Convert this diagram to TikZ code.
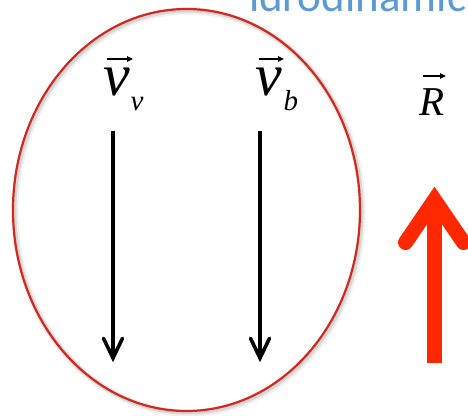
\documentclass[tikz,border=0pt]{standalone}
\usepackage{fontspec}
\usetikzlibrary{arrows.meta}
\setmainfont{Liberation Serif}
\newfontfamily\titlefont{Carlito}
\definecolor{titleblue}{RGB}{91,155,213}
\definecolor{ringred}{RGB}{210,40,30}
\definecolor{arrowred}{RGB}{255,40,0}
\begin{document}
\begin{tikzpicture}[x=1pt,y=-1pt,
  lbl/.style={inner sep=0pt, outer sep=0pt, anchor=base west},
  vecmark/.style={line width=1.3pt, -{Triangle[length=6pt,width=5.5pt]}},
  shaftline/.style={line width=3.3pt, line cap=butt},
  barbline/.style={line width=3.6pt, line cap=round, line join=miter},
  bigshaft/.style={draw=arrowred, line width=15pt, line cap=butt},
  bigbarb/.style={draw=arrowred, line width=15pt, line cap=round, line join=miter},
]
\useasboundingbox (0,0) rectangle (468,415);
\clip (0,0) rectangle (468,415);
\fill[white] (0,0) rectangle (468,415);

\node[lbl, text=titleblue, font=\titlefont\fontsize{45}{48}\selectfont] (title) at (249,12) {idrodinamic};

% ring with soft shadow
\draw[black, opacity=0.06, line width=7pt] (188.5,212) ellipse [x radius=173.5pt, y radius=201pt];
\draw[black, opacity=0.10, line width=4pt] (188,211.5) ellipse [x radius=173.5pt, y radius=201pt];
\draw[ringred, line width=2.2pt] (186.5,210) ellipse [x radius=173.5pt, y radius=201pt];

% labels
\node[lbl, font=\fontsize{60}{62}\selectfont] (vv) at (103,95)
  {\itshape v\kern1pt\raisebox{-15pt}{\fontsize{29}{31}\selectfont\itshape v}};
\node[lbl, font=\fontsize{60}{62}\selectfont] (vb) at (255,95)
  {\itshape v\kern2pt\raisebox{-15pt}{\fontsize{29}{31}\selectfont\itshape b}};
\node[lbl, font=\fontsize{41}{44}\selectfont] (R) at (419,115)
  {\itshape R};

% vector marks over the letters
\coordinate (vvL) at (107,59);  \coordinate (vvR) at (133,59);
\coordinate (vbL) at (259,59);  \coordinate (vbR) at (284,59);
\coordinate (RL)  at (423,76);  \coordinate (RR)  at (446,76);
\draw[vecmark] (vvL) -- (vvR);
\draw[vecmark] (vbL) -- (vbR);
\draw[vecmark] (RL) -- (RR);

% black arrows
\coordinate (vvtop) at (113,131);
\coordinate (vvtip) at (113,358);
\coordinate (vbtop) at (260,131);
\coordinate (vbtip) at (260,358);
\draw[shaftline] (vvtop) -- (vvtip);
\draw[barbline] (vvtip) ++(-9.5,-19.7) -- (vvtip) -- ++(9.5,-19.7);
\draw[shaftline] (vbtop) -- (vbtip);
\draw[barbline] (vbtip) ++(-9.5,-19.7) -- (vbtip) -- ++(9.5,-19.7);

% red arrow
\coordinate (Rbot) at (434.5,363);
\coordinate (Rtop) at (434.5,200);
\draw[bigshaft] (Rbot) -- (Rtop);
\draw[bigbarb] (Rtop) ++(-29,42.5) -- (Rtop) -- ++(29,42.5);
\end{tikzpicture}
\end{document}
